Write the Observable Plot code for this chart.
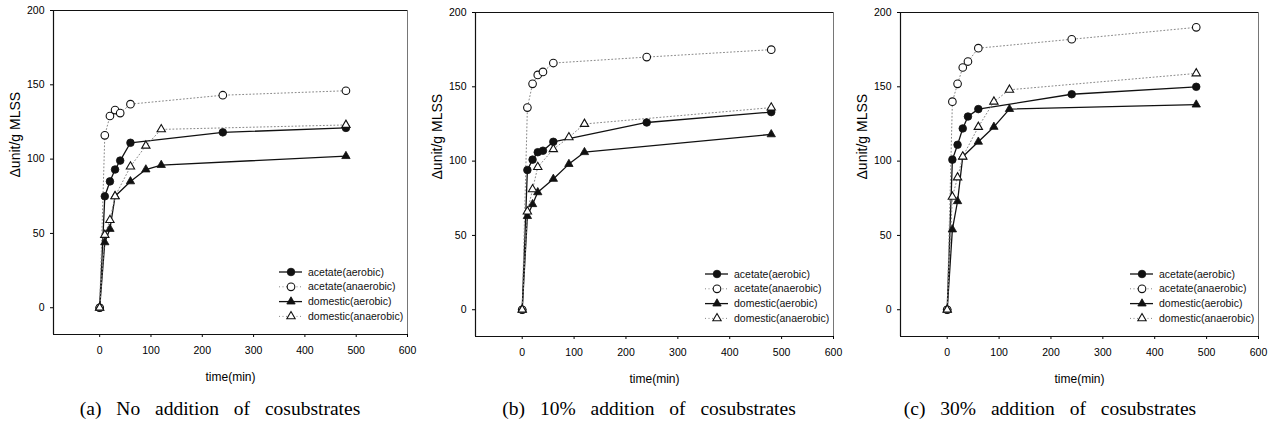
<!DOCTYPE html>
<html>
<head>
<meta charset="utf-8">
<script src="https://cdn.jsdelivr.net/npm/d3@7"></script>
<script src="https://cdn.jsdelivr.net/npm/@observablehq/plot@0.6"></script>
<style>
  html, body { margin: 0; padding: 0; background: #fff; }
  #wrap { position: relative; width: 1277px; height: 427px; overflow: hidden; }
  .panel { position: absolute; top: 0; }
  .caption { position: absolute; top: 398px; font-family: "Liberation Serif", "Times New Roman", serif; font-size: 19.5px; line-height: 22px; white-space: nowrap; word-spacing: 10px; color: #000; transform: translateX(-50%); }
</style>
</head>
<body>
<div id="wrap"></div>
<script>
// ---- data ----
const timesAcetate = [0, 10, 20, 30, 40, 60, 240, 480];
const timesDomestic = [0, 10, 20, 30, 60, 90, 120, 480];

const seriesNames = ["acetate(aerobic)", "acetate(anaerobic)", "domestic(aerobic)", "domestic(anaerobic)"];

const acetateAerobicA   = [0, 75, 85, 93, 99, 111, 118, 121];
const acetateAnaerobicA = [0, 116, 129, 133, 131, 137, 143, 146];
const domesticAerobicA  = [0, 44, 53, 75, 85, 93, 96, 102];
const domesticAnaerobicA= [0, 49, 59, 75, 95, 109, 120, 123];

const acetateAerobicB   = [0, 94, 101, 106, 107, 113, 126, 133];
const acetateAnaerobicB = [0, 136, 152, 158, 160, 166, 170, 175];
const domesticAerobicB  = [0, 63, 71, 79, 88, 98, 106, 118];
const domesticAnaerobicB= [0, 66, 81, 96, 108, 116, 125, 136];

const acetateAerobicC   = [0, 101, 111, 122, 130, 135, 145, 150];
const acetateAnaerobicC = [0, 140, 152, 163, 167, 176, 182, 190];
const domesticAerobicC  = [0, 54, 73, 103, 113, 123, 135, 138];
const domesticAnaerobicC= [0, 76, 89, 103, 123, 140, 148, 159];

const xTicks = [0, 100, 200, 300, 400, 500, 600];
const yTicks = [0, 50, 100, 150, 200];
const xLabel = "time(min)";
const yLabel = "Δunit/g MLSS";
const captions = ["(a) No addition of cosubstrates", "(b) 10% addition of cosubstrates", "(c) 30% addition of cosubstrates"];

const panels = [
  {left: 0,   top: 10, frameW: 354, capX: 220, data: [acetateAerobicA, acetateAnaerobicA, domesticAerobicA, domesticAnaerobicA]},
  {left: 422, top: 12, frameW: 358, capX: 649, data: [acetateAerobicB, acetateAnaerobicB, domesticAerobicB, domesticAnaerobicB]},
  {left: 847, top: 12, frameW: 358, capX: 1050, data: [acetateAerobicC, acetateAnaerobicC, domesticAerobicC, domesticAnaerobicC]}
];

// style per series
const styles = [
  {symbol: "circle",   filled: true,  dotted: false, r: 3.8},
  {symbol: "circle",   filled: false, dotted: true,  r: 3.8},
  {symbol: "triangle", filled: true,  dotted: false, r: 3.1},
  {symbol: "triangle", filled: false, dotted: true,  r: 3.1}
];
const times = [timesAcetate, timesAcetate, timesDomestic, timesDomestic];

const font = "'Liberation Sans', Arial, sans-serif";
const wrap = document.getElementById("wrap");

panels.forEach((p, pi) => {
  const marginLeft = 53, marginRight = 14, frameH = 324, marginBottom = 56;
  const rows = p.data.map((vals, si) => vals.map((v, i) => ({t: times[si][i], v, s: si}))).flat();
  const lineMarks = [];
  const dotMarks = [];
  [0, 1, 2, 3].forEach(si => {
    const st = styles[si];
    const d = rows.filter(r => r.s === si);
    lineMarks.push(Plot.line(d, {x: "t", y: "v",
      stroke: st.dotted ? "#888" : "#111",
      strokeWidth: st.dotted ? 1 : 1.3,
      strokeDasharray: st.dotted ? "1,2.5" : null}));
    dotMarks.push(Plot.dot(d, {x: "t", y: "v", symbol: st.symbol, r: st.r,
      fill: st.filled ? "#111" : "#fff", stroke: "#111", strokeWidth: st.filled ? 0.8 : 1.1}));
  });

  const chart = Plot.plot({
    width: marginLeft + p.frameW + marginRight,
    height: p.top + frameH + marginBottom,
    marginLeft, marginRight, marginTop: p.top, marginBottom,
    style: {fontFamily: font, background: "transparent"},
    x: {domain: [-90, 600]},
    y: {domain: [-18, 200]},
    marks: [
      Plot.frame({stroke: "#555", strokeWidth: 0.8}),
      Plot.axisX({ticks: xTicks, tickSize: 3, tickPadding: 9, fontSize: 10.5, label: null, tickFormat: d => String(d)}),
      Plot.axisY({ticks: yTicks, tickSize: 3, tickPadding: 6, fontSize: 10.5, label: null}),
      Plot.ruleX([-90], {stroke: "#111", strokeWidth: 1.2}),
      Plot.ruleY([-18], {stroke: "#111", strokeWidth: 1.2}),
      Plot.ruleY([200], {stroke: "#111", strokeWidth: 1}),
      ...lineMarks,
      ...dotMarks,
      Plot.text([xLabel], {frameAnchor: "bottom", text: d => d, dy: 46, fontSize: 12}),
      Plot.text([yLabel], {frameAnchor: "left", text: d => d, rotate: -90, dx: -38, dy: 5, fontSize: 14, letterSpacing: "1px"})
    ]
  });
  const div = document.createElement("div");
  div.className = "panel";
  div.style.left = p.left + "px";
  div.appendChild(chart);
  wrap.appendChild(div);

  // legend inside frame, bottom-right
  const svg = d3.select(chart);
  const right = marginLeft + p.frameW, bottom = p.top + frameH;
  const g = svg.append("g").attr("transform", `translate(${right - 128},${bottom - 62})`)
    .attr("font-family", font).attr("font-size", 10.5).attr("text-anchor", "start");
  seriesNames.forEach((name, i) => {
    const st = styles[i];
    const row = g.append("g").attr("transform", `translate(0,${i * 14.8})`);
    row.append("line").attr("x1", 0).attr("x2", 23).attr("y1", 0).attr("y2", 0)
      .attr("stroke", st.dotted ? "#888" : "#111").attr("stroke-width", st.dotted ? 1 : 1.3)
      .attr("stroke-dasharray", st.dotted ? "1,2.5" : null);
    const sym = st.symbol === "circle" ? d3.symbolCircle : d3.symbolTriangle;
    row.append("path").attr("d", d3.symbol(sym, Math.PI * st.r * st.r)())
      .attr("transform", "translate(12,0)")
      .attr("fill", st.filled ? "#111" : "#fff").attr("stroke", "#111").attr("stroke-width", st.filled ? 0.8 : 1.1);
    row.append("text").attr("x", 29).attr("y", 0).attr("dy", "0.35em")
      .attr("text-anchor", "start").attr("fill", "#111").text(name);
  });

  const cap = document.createElement("div");
  cap.className = "caption";
  cap.style.left = p.capX + "px";
  cap.textContent = captions[pi];
  wrap.appendChild(cap);
});
</script>
</body>
</html>
